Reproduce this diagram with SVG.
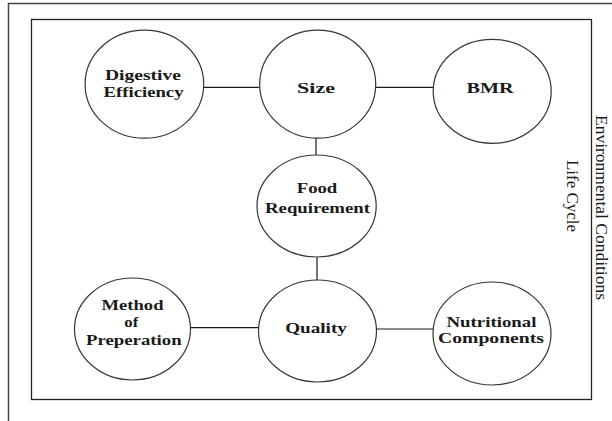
<svg xmlns="http://www.w3.org/2000/svg" width="612" height="421" viewBox="0 0 612 421">
<style>
.node{fill:#fff;stroke:#2e3a33;stroke-width:1.2}
.lbl{font-family:"Liberation Serif","Times New Roman",serif;font-weight:bold;font-size:15px;fill:#1a1a1a;text-anchor:middle}
.side{font-family:"Liberation Serif","Times New Roman",serif;font-size:17px;fill:#1a1a1a;text-anchor:middle}
.edge{stroke:#1a1a1a;stroke-width:1.2;fill:none}
</style>
<rect width="612" height="421" fill="#fff"/>
<path d="M8.5,421 V3.5 H612" fill="none" stroke="#444" stroke-width="1.5"/>
<rect x="31.5" y="19.5" width="560" height="380" fill="none" stroke="#222" stroke-width="1.3"/>
<g id="connectors">
<line class="edge" x1="203.5" y1="87.3" x2="259.5" y2="87.3"/>
<line class="edge" x1="375.8" y1="87.3" x2="433.3" y2="87.3"/>
<line class="edge" x1="316" y1="138" x2="316" y2="155"/>
<line class="edge" x1="317" y1="257" x2="317" y2="280"/>
<line class="edge" x1="190.5" y1="327.7" x2="258.5" y2="327.7"/>
<line class="edge" x1="376.5" y1="329" x2="433" y2="329"/>
</g>
<g id="digestive">
<ellipse class="node" cx="144.4" cy="84.2" rx="59.3" ry="54"/>
<text class="lbl" x="143" y="80" textLength="76" lengthAdjust="spacingAndGlyphs">Digestive</text>
<text class="lbl" x="143.5" y="97.3" textLength="80" lengthAdjust="spacingAndGlyphs">Efficiency</text>
</g>
<g id="size">
<ellipse class="node" cx="317.7" cy="84.2" rx="58" ry="54"/>
<text class="lbl" x="316" y="92.5" textLength="38" lengthAdjust="spacingAndGlyphs">Size</text>
</g>
<g id="bmr">
<ellipse class="node" cx="492.2" cy="91.3" rx="59" ry="52"/>
<text class="lbl" x="490" y="93" textLength="47" lengthAdjust="spacingAndGlyphs">BMR</text>
</g>
<g id="food">
<ellipse class="node" cx="316.6" cy="206" rx="59.6" ry="51"/>
<text class="lbl" x="317" y="193.3" textLength="40.6" lengthAdjust="spacingAndGlyphs">Food</text>
<text class="lbl" x="317.5" y="212.7" textLength="105" lengthAdjust="spacingAndGlyphs">Requirement</text>
</g>
<g id="method">
<ellipse class="node" cx="132.5" cy="329" rx="58" ry="51"/>
<text class="lbl" x="132.5" y="310" textLength="62" lengthAdjust="spacingAndGlyphs">Method</text>
<text class="lbl" x="131.3" y="326.7" textLength="14" lengthAdjust="spacingAndGlyphs">of</text>
<text class="lbl" x="133.8" y="345" textLength="95.7" lengthAdjust="spacingAndGlyphs">Preperation</text>
</g>
<g id="quality">
<ellipse class="node" cx="317.5" cy="331" rx="59" ry="51"/>
<text class="lbl" x="316" y="332.5" textLength="61.7" lengthAdjust="spacingAndGlyphs">Quality</text>
</g>
<g id="nutritional">
<ellipse class="node" cx="492" cy="333.5" rx="59" ry="51.5"/>
<text class="lbl" x="491.5" y="326.7" textLength="90" lengthAdjust="spacingAndGlyphs">Nutritional</text>
<text class="lbl" x="491" y="343.3" textLength="106" lengthAdjust="spacingAndGlyphs">Components</text>
</g>
<g id="life-cycle">
<text class="side" transform="translate(567,196) rotate(90)" textLength="72" lengthAdjust="spacingAndGlyphs">Life Cycle</text>
</g>
<g id="environmental-conditions">
<text class="side" transform="translate(596,207.5) rotate(90)" textLength="185" lengthAdjust="spacingAndGlyphs">Environmental Conditions</text>
</g>
</svg>
